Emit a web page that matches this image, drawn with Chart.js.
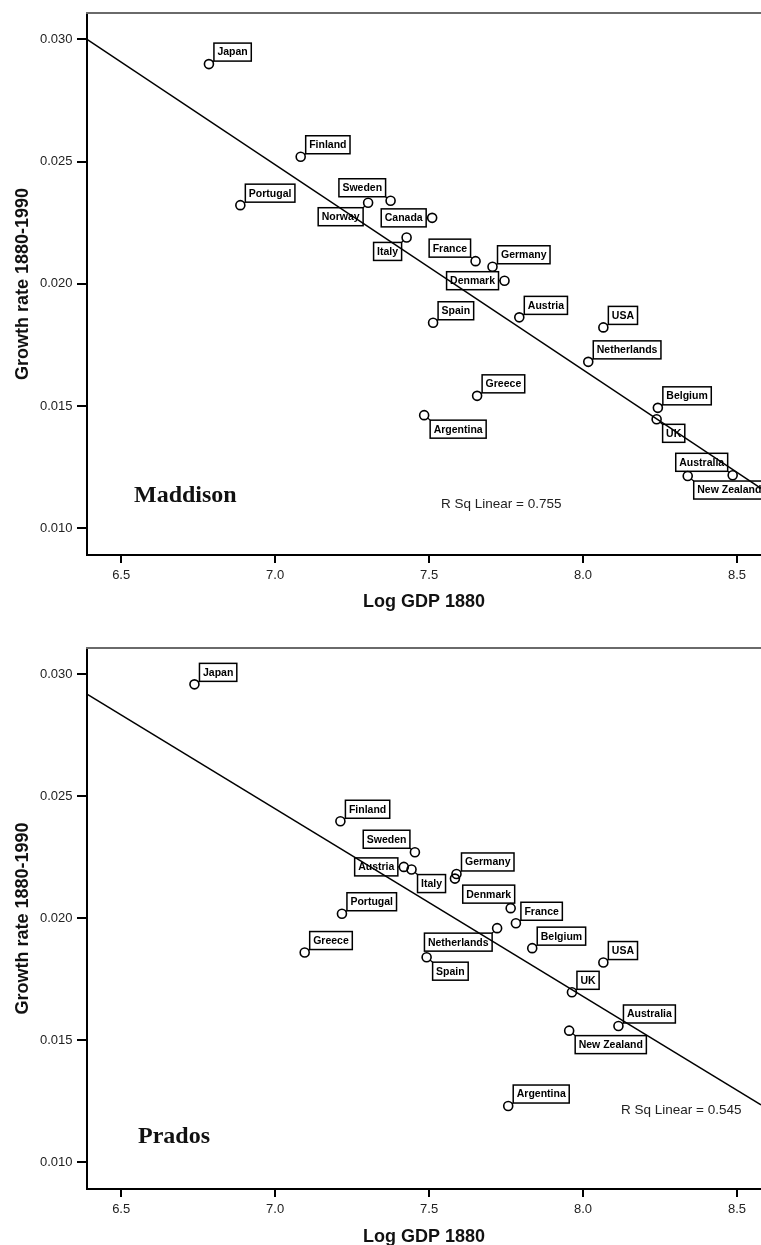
<!DOCTYPE html>
<html>
<head>
  <title>Growth rate vs Log GDP 1880</title>
  <script src="https://cdn.jsdelivr.net/npm/chart.js"></script>
  <style>
    html, body { margin: 0; padding: 0; background: #fff; overflow: hidden; }
    canvas { display: block; }
  </style>
</head>
<body>
  <canvas id="maddisonChart" width="761" height="622"></canvas>
  <canvas id="pradosChart" width="761" height="630"></canvas>

  <script>
    // axis ticks shared by both panels
    const xTicks = [6.5, 7.0, 7.5, 8.0, 8.5];
    const yTicks = [0.010, 0.015, 0.020, 0.025, 0.030];
    const xRange = [6.389, 8.578];
    const yRange = [0.00891, 0.03108];

    // Maddison panel
    const maddisonCountries = ['Japan', 'Finland', 'Portugal', 'Sweden', 'Norway', 'Canada', 'Italy', 'France',
      'Germany', 'Denmark', 'Spain', 'Austria', 'USA', 'Netherlands', 'Greece', 'Argentina', 'Belgium', 'UK',
      'Australia', 'New Zealand'];
    const maddisonLogGdp = [6.785, 7.083, 6.887, 7.375, 7.302, 7.510, 7.427, 7.651,
      7.706, 7.745, 7.513, 7.793, 8.066, 8.017, 7.656, 7.484, 8.243, 8.239,
      8.486, 8.340];
    const maddisonGrowth = [0.02899, 0.02520, 0.02322, 0.02340, 0.02332, 0.02270, 0.02190, 0.02093,
      0.02070, 0.02013, 0.01841, 0.01863, 0.01822, 0.01681, 0.01542, 0.01463, 0.01493, 0.01446,
      0.01217, 0.01214];
    const maddisonFit = [0.08359, -0.008388]; // intercept, slope
    const maddisonRsq = 'R Sq Linear = 0.755';

    // Prados panel
    const pradosCountries = ['Japan', 'Finland', 'Sweden', 'Austria', 'Italy', 'Germany', 'Norway', 'Portugal',
      'Greece', 'Denmark', 'France', 'Netherlands', 'Belgium', 'Spain', 'USA', 'UK', 'Australia',
      'New Zealand', 'Argentina'];
    const pradosLogGdp = [6.738, 7.212, 7.454, 7.418, 7.443, 7.589, 7.584, 7.217,
      7.096, 7.765, 7.782, 7.721, 7.835, 7.492, 8.066, 7.964, 8.115,
      7.955, 7.757];
    const pradosGrowth = [0.02959, 0.02398, 0.02271, 0.02211, 0.02200, 0.02182, 0.02163, 0.02019,
      0.01860, 0.02042, 0.01980, 0.01960, 0.01878, 0.01841, 0.01819, 0.01697, 0.01559,
      0.01540, 0.01231];
    const pradosFit = [0.07831, -0.007689];
    const pradosRsq = 'R Sq Linear = 0.545';

    // where each case label sits relative to its point (null = no label)
    const maddisonSpots = ['ne', 'ne', 'ne', 'nw', 'sw', 'w', 'sw', 'nw', 'ne', 'w', 'ne', 'ne', 'ne', 'ne',
      'ne', 'se', 'ne', 'se', 'nw', 'se'];
    const pradosSpots = ['ne', 'ne', 'nw', 'w', 'se', 'ne', null, 'ne', 'ne', 'n', 'ne', 'sw', 'ne', 'se',
      'ne', 'ne', 'ne', 'se', 'ne'];

    Chart.defaults.font.family = "'Liberation Sans', Arial, sans-serif";
    Chart.defaults.color = '#222';

    const LABEL_FONT = "bold 10.5px 'Liberation Sans', Arial, sans-serif";
    const BOX_H = 18;
    const R = 4.5;

    function boxFor(spot, cx, cy, w) {
      const h = BOX_H;
      if (spot === 'ne') return { x: cx + 5, y: cy - 3 - h, px: cx + 5, py: cy - 3 };
      if (spot === 'nw') return { x: cx - 5 - w, y: cy - 4 - h, px: cx - 5, py: cy - 4 };
      if (spot === 'se') return { x: cx + 6, y: cy + 5, px: cx + 6, py: cy + 5 };
      if (spot === 'sw') return { x: cx - 5 - w, y: cy + 5, px: cx - 5, py: cy + 5 };
      if (spot === 'w') return { x: cx - 6 - w, y: cy - h / 2, px: cx - 6, py: cy };
      if (spot === 'n') return { x: cx + 4 - w, y: cy - 5 - h, px: cx, py: cy - 5 };
      return null;
    }

    function caseLabels(names, spots) {
      return {
        id: 'caseLabels',
        beforeDatasetsDraw(chart) {
          const ctx = chart.ctx;
          const meta = chart.getDatasetMeta(0);
          ctx.save();
          ctx.font = LABEL_FONT;
          ctx.textAlign = 'center';
          ctx.textBaseline = 'middle';
          meta.data.forEach((pt, i) => {
            if (!spots[i]) return;
            const w = ctx.measureText(names[i]).width + 7;
            const b = boxFor(spots[i], pt.x, pt.y, w);
            // connector from circle edge to the box
            const dx = b.px - pt.x, dy = b.py - pt.y;
            const d = Math.hypot(dx, dy);
            if (d > R) {
              ctx.strokeStyle = '#000';
              ctx.lineWidth = 1.2;
              ctx.beginPath();
              ctx.moveTo(pt.x + dx / d * R, pt.y + dy / d * R);
              ctx.lineTo(b.px, b.py);
              ctx.stroke();
            }
            ctx.fillStyle = '#fff';
            ctx.fillRect(b.x, b.y, w, BOX_H);
            ctx.strokeStyle = '#000';
            ctx.lineWidth = 1.5;
            ctx.strokeRect(b.x, b.y, w, BOX_H);
            ctx.fillStyle = '#000';
            ctx.fillText(names[i], b.x + w / 2, b.y + BOX_H / 2 + 0.5);
          });
          ctx.restore();
        },
        afterDraw(chart) {
          const ctx = chart.ctx;
          const a = chart.chartArea;
          const o = chart.options.plugins.notes;
          ctx.save();
          // top frame line
          ctx.strokeStyle = '#6a6a6a';
          ctx.lineWidth = 2;
          ctx.beginPath();
          ctx.moveTo(a.left - 1, a.top);
          ctx.lineTo(a.right, a.top);
          ctx.stroke();
          // source name
          ctx.fillStyle = '#111';
          ctx.textAlign = 'left';
          ctx.textBaseline = 'alphabetic';
          ctx.font = "bold 24px 'Liberation Serif', 'Times New Roman', serif";
          ctx.fillText(o.source, a.left + o.sourceAt[0], a.bottom + o.sourceAt[1]);
          // r squared
          ctx.textBaseline = 'middle';
          ctx.font = "13.5px 'Liberation Sans', Arial, sans-serif";
          ctx.fillStyle = '#222';
          ctx.fillText(o.rsq, a.left + o.rsqAt[0], a.bottom + o.rsqAt[1]);
          ctx.restore();
        }
      };
    }

    function makeChart(id, names, xs, ys, fit, spots, notes, lay) {
      const points = xs.map((x, i) => ({ x: x, y: ys[i] }));
      const fitLine = xRange.map(x => ({ x: x, y: fit[0] + fit[1] * x }));
      return new Chart(document.getElementById(id), {
        type: 'scatter',
        data: {
          datasets: [
            {
              label: 'cases',
              data: points,
              pointRadius: R,
              pointHoverRadius: R,
              pointBorderWidth: 1.6,
              pointBorderColor: '#000',
              pointBackgroundColor: 'rgba(255,255,255,0)'
            },
            {
              label: 'fit',
              type: 'line',
              data: fitLine,
              borderColor: '#000',
              borderWidth: 1.5,
              pointRadius: 0,
              fill: false
            }
          ]
        },
        options: {
          responsive: false,
          animation: false,
          devicePixelRatio: 1,
          layout: { autoPadding: false, padding: { top: lay.top, right: 0, bottom: 0, left: 0 } },
          plugins: {
            legend: { display: false },
            tooltip: { enabled: false },
            notes: notes
          },
          scales: {
            x: {
              type: 'linear',
              min: xRange[0],
              max: xRange[1],
              afterBuildTicks: s => { s.ticks = xTicks.map(v => ({ value: v })); },
              afterFit: s => {
                s.height = lay.xHeight;
                s.paddingLeft = 0;
                s.paddingRight = 0;
              },
              ticks: {
                callback: v => Number(v).toFixed(1),
                font: { size: 13 },
                color: '#222',
                padding: 5,
                maxRotation: 0,
                autoSkip: false
              },
              grid: { drawOnChartArea: false, drawTicks: true, tickLength: 8, color: '#000', lineWidth: 2 },
              border: { display: true, color: '#000', width: 2 },
              title: {
                display: true,
                text: 'Log GDP 1880',
                color: '#111',
                font: { size: 18, weight: 'bold' },
                padding: { top: 0, bottom: lay.xTitlePad }
              }
            },
            y: {
              type: 'linear',
              min: yRange[0],
              max: yRange[1],
              afterBuildTicks: s => { s.ticks = yTicks.map(v => ({ value: v })); },
              afterFit: s => {
                s.width = 87;
                s.paddingTop = 0;
                s.paddingBottom = 0;
              },
              ticks: {
                callback: v => Number(v).toFixed(3),
                font: { size: 13 },
                color: '#222',
                padding: 4.5
              },
              grid: { drawOnChartArea: false, drawTicks: true, tickLength: 10, color: '#000', lineWidth: 2 },
              border: { display: true, color: '#000', width: 2 },
              title: {
                display: true,
                text: 'Growth rate 1880-1990',
                color: '#111',
                font: { size: 18, weight: 'bold' },
                padding: { top: 12, bottom: 0 }
              }
            }
          }
        },
        plugins: [caseLabels(names, spots)]
      });
    }

    makeChart('maddisonChart', maddisonCountries, maddisonLogGdp, maddisonGrowth, maddisonFit, maddisonSpots,
      { source: 'Maddison', sourceAt: [47, -53], rsq: maddisonRsq, rsqAt: [354, -51] },
      { top: 13, xHeight: 67, xTitlePad: 9 });

    makeChart('pradosChart', pradosCountries, pradosLogGdp, pradosGrowth, pradosFit, pradosSpots,
      { source: 'Prados', sourceAt: [51, -46], rsq: pradosRsq, rsqAt: [534, -79] },
      { top: 26, xHeight: 63, xTitlePad: 4 });
  </script>
</body>
</html>
